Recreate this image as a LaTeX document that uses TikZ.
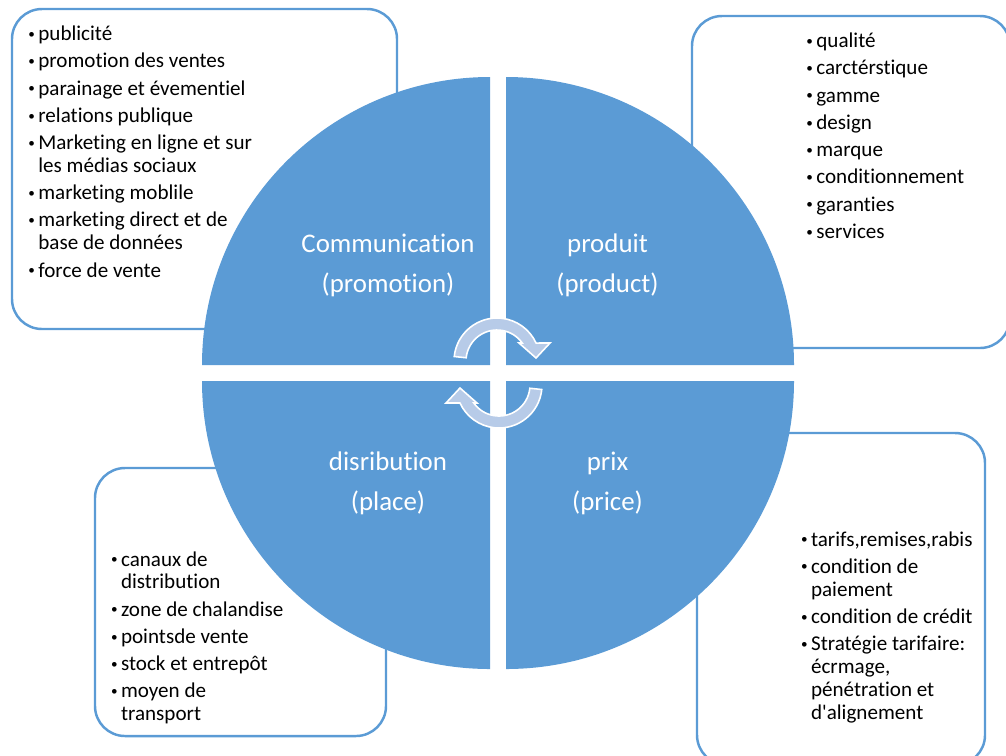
\documentclass[tikz,border=0pt]{standalone}
\usepackage{fontspec}
\setmainfont{Carlito}[Ligatures={NoCommon}]
\usepackage{textcomp}

\definecolor{mixblue}{RGB}{91,155,213}
\definecolor{mixarrow}{RGB}{183,203,232}

% small bullet with a fixed width so the texts line up
\newcommand{\bul}{\makebox[5.7pt][l]{\raisebox{1.3pt}{\fontsize{7.5}{7.5}\selectfont\textbullet}}}

\tikzset{
  quad/.style={fill=mixblue},
  listbox/.style={draw=mixblue, line width=1.4pt, rounded corners=0.6cm},
  listtext/.style={anchor=base west, inner sep=0pt, font=\fontsize{12}{13}\selectfont},
  quadlabel/.style={align=center, text=white, inner sep=0pt, font=\fontsize{15.3}{22.5}\selectfont},
  cyclearrow/.pic={
    \begin{scope}[yscale=-1]
      \filldraw[fill=mixarrow, draw=white, line width=0.9pt, line join=miter]
        (174:43) arc[start angle=174, end angle=24.7, radius=43]
        -- (53,18) -- (39,3) -- (22,18) -- (35.5:31)
        arc[start angle=35.5, end angle=174, radius=31] -- cycle;
    \end{scope}
  }
}

\begin{document}
\begin{tikzpicture}[x=0.02cm, y=-0.02cm]
\path[use as bounding box, clip] (0,0) rectangle (1006,755);

% text boxes behind the circle
\draw[listbox] (12,9) rectangle (397,329);
\draw[listbox] (692,16) rectangle (1010,348);
\draw[listbox] (697,433) rectangle (985,765);
\draw[listbox] (95,468) rectangle (386,736);

\node[listtext] (promoList) at (28,40.7) {\begin{tabular}[t]{@{}l@{}l@{}}
\bul & publicité\\[2.5pt]
\bul & promotion des ventes\\[2.5pt]
\bul & parainage et évementiel\\[2.5pt]
\bul & relations publique\\[2.5pt]
\bul & Marketing en ligne et sur\\
     & les médias sociaux\\[2.5pt]
\bul & marketing moblile\\[2.5pt]
\bul & marketing direct et de\\
     & base de données\\[2.5pt]
\bul & force de vente
\end{tabular}};

\node[listtext] (prodList) at (806,47.7) {\begin{tabular}[t]{@{}l@{}l@{}}
\bul & qualité\\[2.5pt]
\bul & carctérstique\\[2.5pt]
\bul & gamme\\[2.5pt]
\bul & design\\[2.5pt]
\bul & marque\\[2.5pt]
\bul & conditionnement\\[2.5pt]
\bul & garanties\\[2.5pt]
\bul & services
\end{tabular}};

\node[listtext] (prixList) at (800.7,546) {\begin{tabular}[t]{@{}l@{}l@{}}
\bul & tarifs,remises,rabis\\[2.5pt]
\bul & condition de\\
     & paiement\\[2.5pt]
\bul & condition de crédit\\[2.5pt]
\bul & Stratégie tarifaire:\\
     & écrmage,\\
     & pénétration et\\
     & d\textquotesingle alignement
\end{tabular}};

\node[listtext] (placeList) at (110.7,566) {\begin{tabular}[t]{@{}l@{}l@{}}
\bul & canaux de\\
     & distribution\\[2.5pt]
\bul & zone de chalandise\\[2.5pt]
\bul & pointsde vente\\[2.5pt]
\bul & stock et entrepôt\\[2.5pt]
\bul & moyen de\\
     & transport
\end{tabular}};

% the four quarters
\foreach \cx/\cy/\a in {490/365/180, 506/365/270, 506/381/0, 490/381/90} {
  \fill[quad] (\cx,\cy) -- ++(\a:288) arc[start angle=\a, delta angle=90, radius=288] -- cycle;
}

\node[quadlabel] (promo) at (388,265.5) {Communication\\(promotion)};
\node[quadlabel] (prod) at (607.5,265.5) {produit\\(product)};
\node[quadlabel] (place) at (388,483.5) {disribution\\(place)};
\node[quadlabel] (prix) at (607.5,483.5) {prix\\(price)};

% turning arrows in the middle
\pic at (497,361) {cyclearrow};
\pic[rotate=180] at (499,385) {cyclearrow};
\end{tikzpicture}
\end{document}
